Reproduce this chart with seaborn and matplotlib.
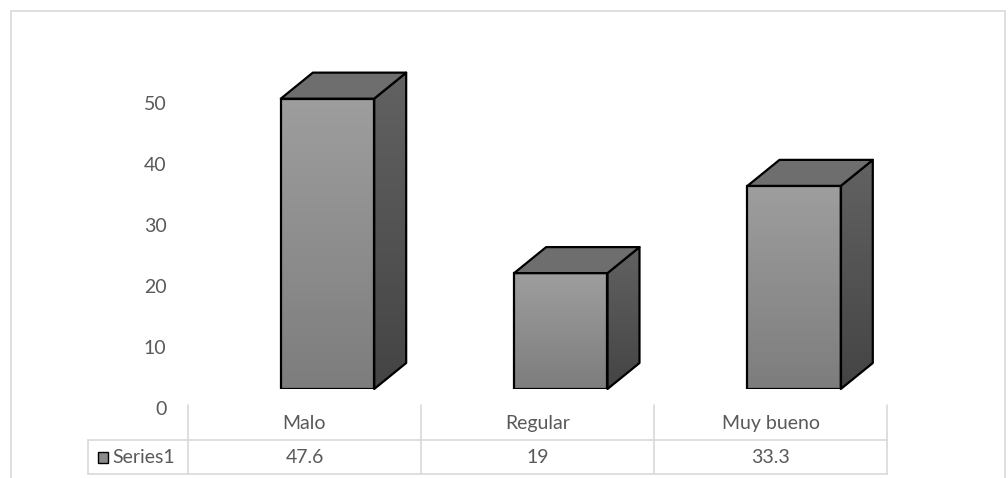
import numpy as np
import pandas as pd
import matplotlib
matplotlib.use("Agg")
import matplotlib.pyplot as plt
from matplotlib.patches import Polygon, Rectangle
import seaborn as sns

categories = ["Malo", "Regular", "Muy bueno"]
values = [47.6, 19, 33.3]
value_labels = ["47.6", "19", "33.3"]
series_name = "Series1"
y_ticks = [0, 10, 20, 30, 40, 50]

sns.set_theme(style="white")
plt.rcParams['font.family'] = ['Lato', 'DejaVu Sans']

W, H = 1008, 478
fig = plt.figure(figsize=(W / 100, H / 100), dpi=100)
fig.patch.set_facecolor("white")

def px_axes(left, top, right, bottom):
    return fig.add_axes([left / W, 1 - bottom / H, (right - left) / W, (bottom - top) / H])

TXT = "#595959"
GRID = "#d9d9d9"
FS = 14

# chart frame
fig.add_artist(Rectangle((11 / W, -0.05), (1005 - 11) / W, 1 - 11 / H + 0.05,
                         transform=fig.transFigure, fill=False, edgecolor=GRID, lw=1.2))

# ---- main bar axes ----
PX_PER_UNIT = 6.1
ax_top, ax_bot = 50, 389
ymax = (ax_bot - ax_top) / PX_PER_UNIT
ax = px_axes(188, ax_top, 887, ax_bot)
cat_px = 233.33
xlim = (-0.598, 2.398)

df = pd.DataFrame({"cat": categories, "val": values})
sns.barplot(data=df, x="cat", y="val", ax=ax, width=0.4, color="#8c8c8c",
            edgecolor="black", linewidth=1.6, saturation=1, zorder=3)

dx = 32 / cat_px
dy = 26 / PX_PER_UNIT

front_grad = np.linspace(0, 1, 256).reshape(-1, 1)
cmap_front = matplotlib.colors.LinearSegmentedColormap.from_list("f", ["#7d7d7d", "#9e9e9e"])
cmap_side = matplotlib.colors.LinearSegmentedColormap.from_list("s", ["#444444", "#626262"])

for p in list(ax.patches):
    l = p.get_x()
    r = l + p.get_width()
    h = p.get_height()
    # front gradient
    im = ax.imshow(front_grad, extent=(l, r, 0, h), origin="lower", cmap=cmap_front,
                   aspect="auto", zorder=3.1)
    im.set_clip_path(p)
    p.set_zorder(3.2)
    p.set_facecolor("none")
    # side face
    side = Polygon([(r, 0), (r + dx, dy), (r + dx, h + dy), (r, h)], closed=True,
                   facecolor="none", edgecolor="black", lw=1.6, zorder=3.2,
                   joinstyle="round", clip_on=False)
    ax.add_patch(side)
    ims = ax.imshow(front_grad, extent=(r, r + dx, 0, h + dy), origin="lower",
                    cmap=cmap_side, aspect="auto", zorder=3.1)
    ims.set_clip_path(side)
    # top face
    top = Polygon([(l, h), (l + dx, h + dy), (r + dx, h + dy), (r, h)], closed=True,
                  facecolor="#6e6e6e", edgecolor="black", lw=1.6, zorder=3.2,
                  joinstyle="round", clip_on=False)
    ax.add_patch(top)

ax.set_xlim(*xlim)
ax.set_ylim(0, ymax)
ax.axis("off")

# ---- y tick labels axis (back wall scale) ----
axy = px_axes(188, ax_top + 19, 887, ax_bot + 19)
axy.set_ylim(0, ymax)
axy.set_yticks(y_ticks)
axy.set_yticklabels([str(t) for t in y_ticks], color=TXT, fontsize=FS)
axy.tick_params(axis="y", length=0, pad=15.5)
axy.set_xticks([])
for s in axy.spines.values():
    s.set_visible(False)
axy.patch.set_visible(False)

# ---- data table ----
axt = px_axes(88, 405, 887, 478)
legend_w = 100 / 233.0
axt.set_xlim(-0.5 - legend_w, 2.5)
axt.set_ylim(478, 405)
axt.axis("off")
axt.patch.set_visible(False)
bounds = [-0.5, 0.5, 1.5, 2.5]
for b in bounds:
    axt.plot([b, b], [405, 474], color=GRID, lw=1.2, clip_on=False)
axt.plot([-0.5 - legend_w, -0.5 - legend_w], [440, 474], color=GRID, lw=1.2, clip_on=False)
for yy in (440, 474):
    axt.plot([-0.5 - legend_w, 2.5], [yy, yy], color=GRID, lw=1.2, clip_on=False)
for i, (c, v) in enumerate(zip(categories, value_labels)):
    axt.text(i, 423, c, ha="center", va="center", color=TXT, fontsize=FS)
    axt.text(i, 457.5, v, ha="center", va="center", color=TXT, fontsize=FS)
# legend key
x0 = -0.5 - legend_w + 10 / 233.0
axt.add_patch(Rectangle((x0, 452), 10 / 233.0, 11, facecolor="#8a8a8a",
                        edgecolor="black", lw=1.0, clip_on=False))
axt.text(x0 + 14 / 233.0, 457.5, series_name, ha="left", va="center", color=TXT, fontsize=FS)

fig.savefig("out.png", dpi=100)
